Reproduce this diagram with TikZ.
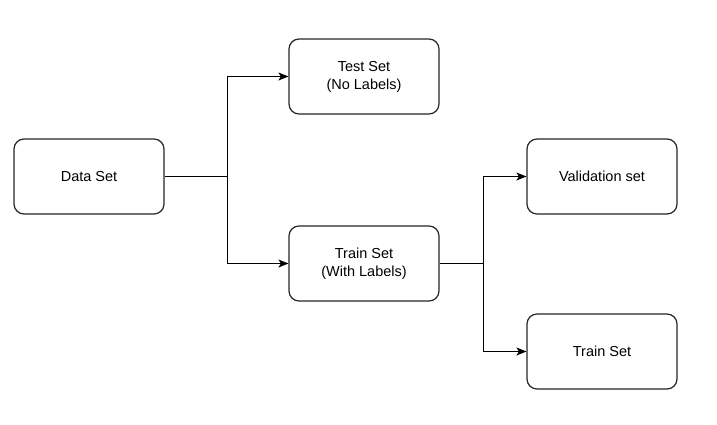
\documentclass[tikz,border=0pt]{standalone}
\usepackage{fontspec}
\setmainfont{Liberation Sans}
\usetikzlibrary{arrows.meta, positioning, calc}
\tikzset{
  setnode/.style={rectangle, draw=black!85, fill=white, rounded corners=10pt, minimum width=150pt, minimum height=75pt, align=center, font=\fontsize{14.5}{18}\selectfont, line width=1.2pt},
  splitline/.style={draw, line width=1.2pt, -{Stealth[length=10pt, width=8pt, inset=2.5pt]}},
}

\begin{document}
\begin{tikzpicture}[x=1pt, y=-1pt]
\useasboundingbox (0,0) rectangle (717,424);
\node[setnode] (data) at (89,176.5) {Data Set};
\node[setnode] (test) at (364,76.5) {Test Set\\(No Labels)};
\node[setnode] (trainwl) at (364,263.5) {Train Set\\(With Labels)};
\node[setnode] (valid) at (602,176.5) {Validation set};
\node[setnode] (train) at (602,351.5) {Train Set};
% first split
\draw[splitline] (data.east) -- ++(63,0) |- (test.west);
\draw[splitline] (data.east) -- ++(63,0) |- (trainwl.west);
% second split
\draw[splitline] (trainwl.east) -- ++(44,0) |- (valid.west);
\draw[splitline] (trainwl.east) -- ++(44,0) |- (train.west);
\end{tikzpicture}
\end{document}
